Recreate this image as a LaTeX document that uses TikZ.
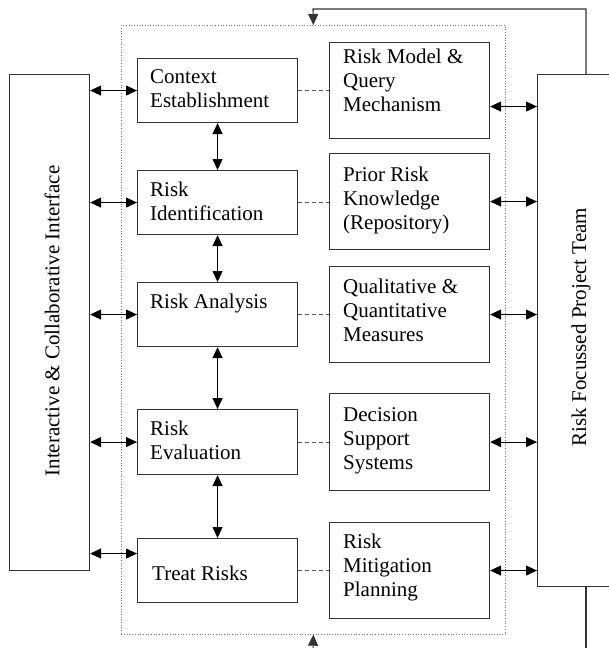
\documentclass[tikz,border=0pt]{standalone}
\usepackage{fontspec}
\setmainfont{Liberation Serif}
\usetikzlibrary{arrows.meta}
\begin{document}
\begin{tikzpicture}[x=1pt,y=-1pt,
  box/.style={draw=black!80, line width=1.1pt, minimum width=160pt, anchor=north west, inner sep=0pt},
  pbox/.style={box, minimum height=64pt},
  rbox/.style={box, minimum height=96pt},
  bigbox/.style={draw=black!80, line width=1.1pt, anchor=north west, inner sep=0pt},
  txt/.style={anchor=base west, inner sep=0pt, font=\fontsize{21}{24}\selectfont},
  vtxt/.style={inner sep=0pt, rotate=90, font=\fontsize{21}{24}\selectfont},
  tip/.tip={Triangle[length=11pt,width=10pt]},
  dbl/.style={{tip}-{tip}, line width=1.1pt, draw=black},
  one/.style={-{tip}, line width=1.1pt, draw=black!80},
  plain/.style={line width=1.1pt, draw=black!80},
  dsh/.style={draw=black!65, line width=1.1pt, dash pattern=on 4pt off 3pt},
  outerbox/.style={draw=black!55, line width=0.7pt, dotted, anchor=north west, inner sep=0pt}
]
\useasboundingbox[fill=white] (0,0) rectangle (608,648);

% outer dotted frame
\node[outerbox, minimum width=384pt, minimum height=609pt] (outer) at (121,25) {};

% side boxes
\node[bigbox, minimum width=80pt, minimum height=496pt] (lb) at (9,74) {};
\node[bigbox, minimum width=103pt, minimum height=512pt] (rt) at (537,74) {};
\node[vtxt] (lbt) at (52,321) {Interactive \& Collaborative Interface};
\node[vtxt] (rtt) at (581,327) {Risk Focussed Project Team};

% process boxes
\node[pbox] (ctx) at (137,58) {};
\node[pbox] (rid) at (137,170) {};
\node[pbox] (ran) at (137,282) {};
\node[pbox, minimum height=65pt] (rev) at (137,409) {};
\node[pbox] (trt) at (137,538) {};

% support boxes
\node[rbox] (rm) at (329,42) {};
\node[rbox] (prk) at (329,153) {};
\node[rbox] (qq) at (329,266) {};
\node[rbox, minimum height=97pt] (dss) at (329,393) {};
\node[rbox] (rmp) at (329,522) {};

% texts
\node[txt] (ctxt) at ([shift={(13,25)}]ctx.north west) {\parbox[t]{150pt}{Context\\Establishment}};
\node[txt] (ridt) at ([shift={(13,26)}]rid.north west) {\parbox[t]{150pt}{Risk\\Identification}};
\node[txt] (rant) at ([shift={(13,26)}]ran.north west) {Risk Analysis};
\node[txt] (revt) at ([shift={(13,26)}]rev.north west) {\parbox[t]{150pt}{Risk\\Evaluation}};
\node[txt] (trtt) at ([shift={(15,42)}]trt.north west) {Treat Risks};

\node[txt] (rmt) at ([shift={(14,21)}]rm.north west) {\parbox[t]{150pt}{Risk Model \&\\Query\\Mechanism}};
\node[txt] (prkt) at ([shift={(14,28)}]prk.north west) {\parbox[t]{150pt}{Prior Risk\\Knowledge\\(Repository)}};
\node[txt] (qqt) at ([shift={(14,27)}]qq.north west) {\parbox[t]{150pt}{Qualitative \&\\Quantitative\\Measures}};
\node[txt] (dsst) at ([shift={(14,28)}]dss.north west) {\parbox[t]{150pt}{Decision\\Support\\Systems}};
\node[txt] (rmpt) at ([shift={(14,26)}]rmp.north west) {\parbox[t]{150pt}{Risk\\Mitigation\\Planning}};

% vertical process arrows
\draw[dbl] (ctx.south) -- (rid.north);
\draw[dbl] (rid.south) -- (ran.north);
\draw[dbl] (ran.south) -- (rev.north);
\draw[dbl] (rev.south) -- (trt.north);

% dashed links
\draw[dsh] (ctx.east) -- (rm.west |- ctx.east);
\draw[dsh] (rid.east) -- (prk.west |- rid.east);
\draw[dsh] (ran.east) -- (qq.west |- ran.east);
\draw[dsh] (rev.east) -- (dss.west |- rev.east);
\draw[dsh] (trt.east) -- (rmp.west |- trt.east);

% left interface arrows
\coordinate (trtA) at ([yshift=17pt]trt.west);
\draw[dbl] (lb.east |- ctx.west) -- (ctx.west);
\draw[dbl] (lb.east |- rid.west) -- (rid.west);
\draw[dbl] (lb.east |- ran.west) -- (ran.west);
\draw[dbl] (lb.east |- rev.west) -- (rev.west);
\draw[dbl] (lb.east |- trtA) -- (trtA);

% right team arrows
\coordinate (rmA) at ([yshift=-16pt]rm.east);
\draw[dbl] (rmA) -- (rt.west |- rmA);
\draw[dbl] (prk.east) -- (rt.west |- prk.east);
\draw[dbl] (qq.east) -- (rt.west |- qq.east);
\draw[dbl] (dss.east) -- (rt.west |- dss.east);
\draw[dbl] (rmp.east) -- (rt.west |- rmp.east);

% feedback loop
\coordinate (ftop) at (313,9);
\coordinate (fbl) at (313,650);
\coordinate (fbr) at (586,650);
\draw[one] ([xshift=49pt]rt.north west) |- (ftop) -- (outer.north);
\draw[plain] ([xshift=49pt]rt.south west) -- (fbr);
\draw[one] (fbl) -- (outer.south);
\end{tikzpicture}
\end{document}
